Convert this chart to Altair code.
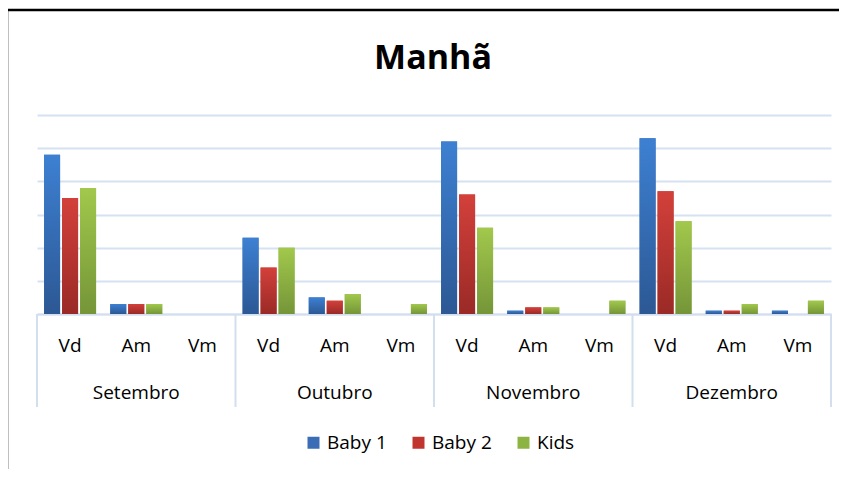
import altair as alt
import pandas as pd

months = ["Setembro", "Outubro", "Novembro", "Dezembro"]
subs = ["Vd", "Am", "Vm"]
series = ["Baby 1", "Baby 2", "Kids"]
baby1 = [48, 3, 0, 23, 5, 0, 52, 1, 0, 53, 1, 1]
baby2 = [35, 3, 0, 14, 4, 0, 36, 2, 0, 37, 1, 0]
kids = [38, 3, 0, 20, 6, 3, 26, 2, 4, 28, 3, 4]
y_ticks = [0, 10, 20, 30, 40, 50, 60]
title_text = ["Manhã"]

legend_colors = ["#3A6DB5", "#C0362F", "#8DB443"]
gradients = {
    "Baby 1": ("#3D80D2", "#2C5894"),
    "Baby 2": ("#D3403B", "#9A2A26"),
    "Kids": ("#A2C84C", "#759538"),
}

cat_order = [f"{m}|{s}" for m in months for s in subs]
rows = []
for name, vals in zip(series, [baby1, baby2, kids]):
    for c, v in zip(cat_order, vals):
        rows.append({"cat": c, "series": name, "value": v})
df = pd.DataFrame(rows)

W, H = 794, 199

xenc = alt.X(
    "cat:N",
    scale=alt.Scale(domain=cat_order, paddingInner=0, paddingOuter=0),
    axis=alt.Axis(
        title=None, labelExpr="split(datum.value,'|')[1]", labelAngle=0,
        ticks=False, domainColor="#D3DFEF", domainWidth=2,
        labelFontSize=19, labelColor="#000000", labelPadding=22,
        labelFont="Open Sans",
    ),
)
yenc = alt.Y(
    "value:Q",
    scale=alt.Scale(domain=[0, 60]),
    axis=alt.Axis(
        title=None, labels=False, ticks=False, domain=False, values=y_ticks,
        grid=True, gridColor="#D6E2F1", gridWidth=2,
    ),
)
xoff = alt.XOffset(
    "series:N",
    scale=alt.Scale(domain=series, paddingInner=0.111, paddingOuter=0.394),
)

base_bars = alt.Chart(df).mark_bar().encode(
    x=xenc, y=yenc, xOffset=xoff,
    color=alt.Color(
        "series:N",
        scale=alt.Scale(domain=series, range=legend_colors),
        legend=alt.Legend(
            title=None, orient="none", legendX=267, legendY=318,
            direction="horizontal", symbolType="square", symbolSize=144,
            symbolStrokeWidth=0, labelFontSize=19, labelColor="#000000",
            columnPadding=22, labelOffset=4, labelFont="Open Sans",
        ),
    ),
)

grad_layers = []
for name in series:
    top, bot = gradients[name]
    g = alt.Chart(df).transform_filter(alt.datum.series == name).mark_bar(
        fill=alt.Gradient(
            gradient="linear",
            stops=[alt.GradientStop(color=top, offset=0),
                   alt.GradientStop(color=bot, offset=1)],
            x1=0, x2=0, y1=0, y2=1,
        )
    ).encode(x=xenc, y=yenc, xOffset=xoff)
    grad_layers.append(g)

bnd = pd.DataFrame({"cat": [f"{m}|Vd" for m in months]})
rules_a = alt.Chart(bnd).mark_rule(color="#D3DFEF", strokeWidth=2).encode(
    x=alt.X("cat:N", bandPosition=0), y=alt.value(H), y2=alt.value(H + 93)
)
end = pd.DataFrame({"cat": [f"{months[-1]}|Vm"]})
rules_b = alt.Chart(end).mark_rule(color="#D3DFEF", strokeWidth=2).encode(
    x=alt.X("cat:N", bandPosition=1), y=alt.value(H), y2=alt.value(H + 93)
)

mdf = pd.DataFrame({"cat": [f"{m}|Am" for m in months], "month": months})
month_text = alt.Chart(mdf).mark_text(
    fontSize=19, baseline="alphabetic", color="#000000", font="Open Sans"
).encode(x=alt.X("cat:N"), y=alt.value(H + 85), text="month:N")

title_mark = alt.Chart(pd.DataFrame({"t": title_text})).mark_text(
    fontSize=34, fontWeight="bold", font="Open Sans", baseline="alphabetic",
    align="center", color="#000000",
).encode(x=alt.value(W / 2 - 1), y=alt.value(-46), text="t:N")

frame = alt.Chart(pd.DataFrame({"k": [0]})).mark_rect(
    fill=None, stroke="#000000", strokeWidth=2.5
).encode(x=alt.value(-30), x2=alt.value(830), y=alt.value(-105), y2=alt.value(400))

chart = alt.layer(
    frame, base_bars, *grad_layers, rules_a, rules_b, month_text, title_mark
).properties(
    width=W, height=H,
    autosize=alt.AutoSizeParams(type="none"),
    padding={"left": 29, "top": 107, "right": 8, "bottom": 155},
).configure(font="Open Sans").configure_view(stroke=None)

chart.save("out.html", embed_options={"renderer": "svg", "actions": False})
